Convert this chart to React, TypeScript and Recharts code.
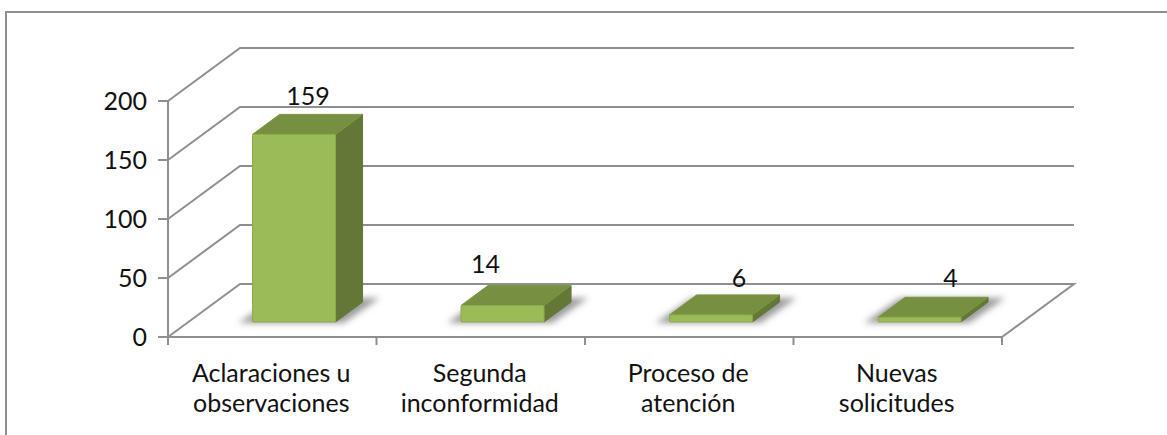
import React from 'react';
import { BarChart, Bar, XAxis, YAxis, CartesianGrid, LabelList } from 'recharts';

const categories = ['Aclaraciones u observaciones', 'Segunda inconformidad', 'Proceso de atención', 'Nuevas solicitudes'];
const categoryLines = [
  ['Aclaraciones u', 'observaciones'],
  ['Segunda', 'inconformidad'],
  ['Proceso de', 'atención'],
  ['Nuevas', 'solicitudes'],
];
const values = [159, 14, 6, 4];
const yTicks = [0, 50, 100, 150, 200];

const chartData = categories.map((name, i) => ({ name, value: values[i] }));

const FONT = 'Lato, Carlito, sans-serif';
const FONT_SIZE = 25;
const TEXT = '#111111';
const LINE = '#8f8f8f';

const PLOT = { left: 168, right: 1002, top: 101, bottom: 337 };
const BAND = (PLOT.right - PLOT.left) / categories.length;
// depth of the floor/wall, and where a bar sits on the floor
const WALL = { dx: 72, dy: -53 };
const BAR_SHIFT = { dx: 22, dy: -15 };
const BAR_DEPTH = { dx: 27, dy: -20 };
// the data labels were moved by hand in the original
const LABEL_NUDGE = [
  { dx: 14, dy: -37 },
  { dx: -17, dy: -40 },
  { dx: 28, dy: -36 },
  { dx: 31, dy: -38 },
];

const pts = (list: number[][]) => list.map((p) => p.join(',')).join(' ');

function GridLine(props: any) {
  const { x1, y1, x2 } = props;
  const isFloor = Math.abs(y1 - PLOT.bottom) < 1;
  const backY = y1 + WALL.dy;
  const path = [[x1, y1], [x1 + WALL.dx, backY], [x2 + WALL.dx, backY]];
  if (isFloor) path.push([x2, y1]);
  return <polyline key={props.key} points={pts(path)} fill="none" stroke={LINE} strokeWidth={2} />;
}

function Bar3D(props: any) {
  const { x, y, width, height } = props;
  const left = x + BAR_SHIFT.dx;
  const right = left + width;
  const top = y + BAR_SHIFT.dy;
  const bottom = top + height;
  const { dx, dy } = BAR_DEPTH;
  return (
    <g>
      <polygon
        points={pts([
          [left - 14, bottom + 1],
          [right + 8, bottom + 1],
          [right + 44, bottom - 24],
          [left + 22, bottom - 24],
        ])}
        fill="#666666"
        fillOpacity={0.65}
        filter="url(#floorShadow)"
      />
      <polygon
        points={pts([[right, top], [right + dx, top + dy], [right + dx, bottom + dy], [right, bottom]])}
        fill="#637736"
        stroke="#637736"
        strokeLinejoin="round"
      />
      <polygon
        points={pts([[left, top], [left + dx, top + dy], [right + dx, top + dy], [right, top]])}
        fill="#768f40"
        stroke="#7a9642"
        strokeLinejoin="round"
      />
      <rect x={left} y={top} width={width} height={height} fill="#9bbb59" stroke="#8bab4b" rx={1} />
    </g>
  );
}

function CategoryTick(props: any) {
  const { x, y, index } = props;
  const lines = categoryLines[index];
  const isLast = index === categories.length - 1;
  return (
    <g>
      <line x1={x - BAND / 2} x2={x - BAND / 2} y1={y} y2={y + 8} stroke={LINE} strokeWidth={2} />
      {isLast && <line x1={x + BAND / 2} x2={x + BAND / 2} y1={y} y2={y + 8} stroke={LINE} strokeWidth={2} />}
      <text textAnchor="middle" fontFamily={FONT} fontSize={FONT_SIZE} fill={TEXT}>
        <tspan x={x - 1} y={y + 45}>{lines[0]}</tspan>
        <tspan x={x - 1} y={y + 75}>{lines[1]}</tspan>
      </text>
    </g>
  );
}

function ValueLabel(props: any) {
  const { x, y, width, value, index } = props;
  const nudge = LABEL_NUDGE[index];
  return (
    <text
      x={x + width / 2 + BAR_SHIFT.dx + nudge.dx}
      y={y + BAR_SHIFT.dy + nudge.dy + 8}
      textAnchor="middle"
      fontFamily={FONT}
      fontSize={FONT_SIZE}
      fill={TEXT}
    >
      {value}
    </text>
  );
}

export default function App() {
  return (
    <div style={{ position: 'absolute', left: 0, top: 0, width: 1167, height: 435, background: '#fff', overflow: 'hidden' }}>
      <div
        style={{
          position: 'absolute',
          left: 5,
          top: 11,
          right: 0,
          bottom: 0,
          borderTop: `2px solid ${LINE}`,
          borderLeft: `2px solid ${LINE}`,
        }}
      />
      <BarChart
        width={1167}
        height={435}
        data={chartData}
        barCategoryGap="30%"
        margin={{ top: PLOT.top, right: 1167 - PLOT.right, bottom: 8, left: 88 }}
        style={{ position: 'absolute', left: 0, top: 0 }}
      >
        <defs>
          <filter id="floorShadow" x="-30%" y="-50%" width="160%" height="200%">
            <feGaussianBlur stdDeviation="3" />
          </filter>
        </defs>
        <CartesianGrid vertical={false} horizontal={GridLine} />
        <XAxis
          dataKey="name"
          interval={0}
          height={90}
          tickLine={false}
          tickSize={0}
          tickMargin={0}
          axisLine={{ stroke: LINE, strokeWidth: 2 }}
          tick={CategoryTick}
        />
        <YAxis
          type="number"
          domain={[0, 200]}
          ticks={yTicks}
          width={80}
          tickSize={10}
          tickMargin={11}
          axisLine={{ stroke: LINE, strokeWidth: 2 }}
          tickLine={{ stroke: LINE, strokeWidth: 2 }}
          tick={{ fontFamily: FONT, fontSize: FONT_SIZE, fill: TEXT }}
        />
        <Bar dataKey="value" shape={Bar3D} isAnimationActive={false}>
          <LabelList dataKey="value" content={ValueLabel} />
        </Bar>
      </BarChart>
    </div>
  );
}
